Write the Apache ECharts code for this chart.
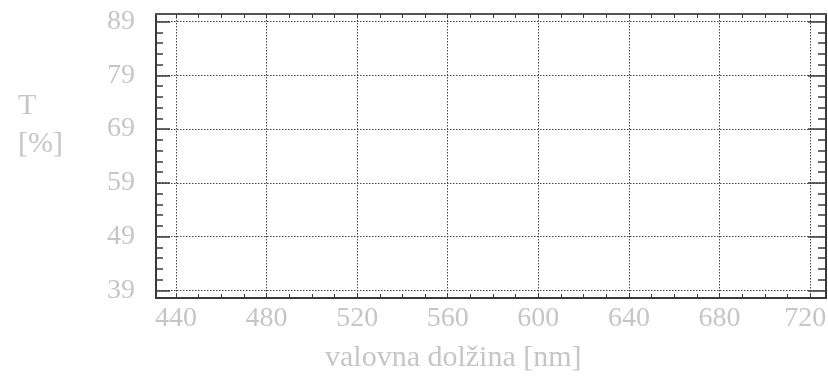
<!DOCTYPE html>
<html>
<head>
<meta charset="utf-8">
<script src="https://cdn.jsdelivr.net/npm/echarts@6/dist/echarts.min.js"></script>
<style>
  html, body { margin: 0; padding: 0; background: #ffffff; }
  #chart { width: 828px; height: 376px; }
</style>
</head>
<body>
<div id="chart"></div>
<script>
// Wavelength axis (nm) and transmittance axis (%)
const xRange = [431.2, 727];
const yRange = [37.6, 90.4];
const xMajorTicks = [440, 480, 520, 560, 600, 640, 680, 720];
const xMinorTicks = [440, 450, 460, 470, 480, 490, 500, 510, 520, 530, 540, 550, 560, 570,
  580, 590, 600, 610, 620, 630, 640, 650, 660, 670, 680, 690, 700, 710, 720];
const yMajorTicks = [39, 49, 59, 69, 79, 89];
const yMinorTicks = [41, 43, 45, 47, 51, 53, 55, 57, 61, 63, 65, 67, 71, 73, 75, 77, 81, 83, 85, 87];
const xTitle = 'valovna dolžina [nm]';
const yTitle = 'T\n[%]';

const FRAME = '#3a3a3a';
const GRID = '#444444';
const TEXT = '#c6c6c6';
const FONT = '"Liberation Serif", "DejaVu Serif", serif';

const chart = echarts.init(document.getElementById('chart'), null, { renderer: 'canvas' });

function xAxisDef(position, ticks, tickLen, opts) {
  return Object.assign({
    type: 'value', position: position, min: xRange[0], max: xRange[1],
    axisLine: { show: false },
    axisTick: { show: true, inside: true, length: tickLen, customValues: ticks,
      lineStyle: { color: FRAME, width: 1 } },
    axisLabel: { show: false },
    splitLine: { show: false }
  }, opts || {});
}
function yAxisDef(position, ticks, tickLen, opts) {
  return Object.assign({
    type: 'value', position: position, min: yRange[0], max: yRange[1],
    axisLine: { show: false },
    axisTick: { show: true, inside: true, length: tickLen, customValues: ticks,
      lineStyle: { color: FRAME, width: 1.5 } },
    axisLabel: { show: false },
    splitLine: { show: false }
  }, opts || {});
}

const lastX = xMajorTicks[xMajorTicks.length - 1];

chart.setOption({
  animation: false,
  backgroundColor: '#ffffff',
  title: [
    { text: yTitle, left: 13, top: 82,
      textStyle: { fontFamily: FONT, fontSize: 30, fontWeight: 'normal', color: TEXT, lineHeight: 38 } },
    { text: xTitle, left: 320, top: 338,
      textStyle: { fontFamily: FONT, fontSize: 30, fontWeight: 'normal', color: TEXT } }
  ],
  grid: { left: 156, right: 2, top: 14, bottom: 78, containLabel: false, outerBoundsMode: 'none' },
  xAxis: [
    // bottom frame with major labels and vertical grid lines
    xAxisDef('bottom', xMajorTicks, 4, {
      axisLine: { show: true, onZero: false, lineStyle: { color: FRAME, width: 2 } },
      axisLabel: {
        show: true, customValues: xMajorTicks, margin: 7, hideOverlap: false,
        fontFamily: FONT, fontSize: 28, color: TEXT,
        // keep the rightmost label inside the canvas
        formatter: v => (v === lastX ? '{last|' + v + '}' : String(v)),
        rich: { last: { fontFamily: FONT, fontSize: 28, color: TEXT, padding: [0, 10, 0, 0] } }
      },
      splitLine: { show: true, lineStyle: { color: GRID, width: 1, type: [1.5, 1.5] } }
    }),
    // top frame with 10 nm ticks
    xAxisDef('top', xMinorTicks, 4, {
      axisLine: { show: true, onZero: false, lineStyle: { color: '#555555', width: 2 } }
    }),
    // bottom 10 nm ticks
    xAxisDef('bottom', xMinorTicks, 4)
  ],
  yAxis: [
    // left frame with major labels and horizontal grid lines
    yAxisDef('left', yMajorTicks, 14, {
      axisLine: { show: true, onZero: false, lineStyle: { color: FRAME, width: 2 } },
      axisLabel: { show: true, customValues: yMajorTicks, margin: 21, padding: [4, 0, 0, 0],
        fontFamily: FONT, fontSize: 28, color: TEXT },
      splitLine: { show: true, lineStyle: { color: GRID, width: 1, type: [1.5, 1.5] } }
    }),
    yAxisDef('left', yMinorTicks, 7),
    // right frame
    yAxisDef('right', yMajorTicks, 18, {
      axisLine: { show: true, onZero: false, lineStyle: { color: FRAME, width: 2 } }
    }),
    yAxisDef('right', yMinorTicks, 8)
  ],
  series: [
    { type: 'line', xAxisIndex: 0, yAxisIndex: 0, data: [], silent: true }
  ]
});
</script>
</body>
</html>
